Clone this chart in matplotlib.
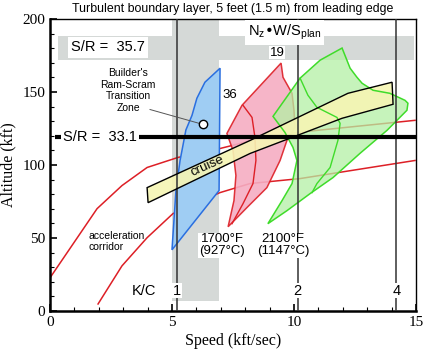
import matplotlib
matplotlib.use("Agg")
import matplotlib.pyplot as plt
from matplotlib.patches import Polygon, Rectangle

# --- data ---
# blue: builder's ram-scram transition zone
blue_x = [6.97, 6.93, 5.0, 5.16, 5.33, 5.57, 5.82, 6.02, 6.35]
blue_y = [166.3, 82.5, 41.9, 82.0, 103.0, 124.0, 134.0, 145.7, 156.7]

# pink: 1700F region (outer and inner contour)
pink_x = [9.47, 9.55, 9.92, 10.0, 10.04, 9.84, 9.71, 9.43, 8.89, 8.07, 7.30,
          7.54, 7.62, 7.50, 7.25, 7.87]
pink_y = [169.8, 160.1, 149.1, 137.5, 125.8, 120.3, 116.8, 103.1, 84.5, 70.8, 57.7,
          75.6, 92.8, 110.0, 121.6, 140.9]
pink_in_x = [7.91, 8.28, 8.40, 8.44, 8.32, 7.91, 7.46]
pink_in_y = [140.9, 132.6, 118.9, 103.1, 87.3, 73.5, 59.8]

# green: 2100F region (outer and inner contour)
green_x = [11.97, 12.30, 12.58, 12.79, 13.24, 13.93, 14.55, 14.67, 14.63, 13.81,
           12.70, 11.60, 10.66, 9.71, 8.93, 9.51, 9.92, 10.12, 9.96, 9.63, 9.14,
           10.25, 11.07]
green_y = [180.1, 166.3, 160.1, 156.0, 151.2, 149.1, 144.3, 142.3, 137.5, 123.7,
           107.9, 91.4, 80.4, 68.7, 59.8, 75.6, 87.3, 103.1, 112.0, 122.3, 133.3,
           159.5, 171.8]
green_in_x = [10.25, 10.57, 10.94, 11.76, 11.89, 11.80, 11.48, 10.94, 10.74]
green_in_y = [159.5, 147.8, 139.5, 132.6, 128.5, 116.8, 98.3, 87.3, 81.1]

# cruise band edges
cruise_top_x = [3.98, 8.20, 12.21, 14.02]
cruise_top_y = [84.5, 116.8, 149.1, 156.7]
cruise_bot_x = [4.02, 8.20, 11.97, 14.06]
cruise_bot_y = [74.2, 107.9, 132.0, 141.6]

# acceleration corridor
acc_hi_x = [0.0, 1.93, 2.95, 3.98, 5.25, 6.97, 8.61, 10.12, 14.96]
acc_hi_y = [22.7, 70.1, 85.9, 98.3, 105.2, 111.3, 118.2, 122.3, 130.6]
acc_lo_x = [1.97, 2.95, 3.98, 5.04, 6.97, 8.20, 10.25, 14.96]
acc_lo_y = [4.8, 30.9, 50.2, 66.7, 81.1, 87.3, 90.7, 103.1]

kc_x = [5.2, 10.15, 14.2]
kc_labels = ["1", "2", "4"]
sr_low = 119
circle_pt = (6.27, 127.8)

sans = "Liberation Sans"
serif = "Liberation Serif"

fig = plt.figure(figsize=(4.25, 3.52), dpi=100)
ax = fig.add_axes([0.1176, 0.1165, 0.8612, 0.8295])
ax.set_xlim(0, 15)
ax.set_ylim(0, 200)

gray = "#d5d9d7"
# gray bands
ax.add_patch(Rectangle((0.33, 172), 14.6, 16.5, color=gray, lw=0, zorder=0))
ax.add_patch(Rectangle((5.0, 6.8), 1.93, 193.2, color=gray, lw=0, zorder=0))

# acceleration corridor
ax.plot(acc_hi_x, acc_hi_y, color="#dd1f26", lw=1.1, zorder=2)
ax.plot(acc_lo_x, acc_lo_y, color="#dd1f26", lw=1.1, zorder=2)

# regions
ax.add_patch(Polygon(list(zip(pink_x, pink_y)), closed=True, fc="#f5adc2",
                     ec="#dd1f26", lw=1.1, alpha=0.9, zorder=3))
ax.plot(pink_in_x, pink_in_y, color="#dd1f26", lw=1.0, zorder=3)
ax.add_patch(Polygon(list(zip(green_x, green_y)), closed=True, fc="#b4f0a4",
                     ec="none", alpha=0.75, zorder=3))
ax.add_patch(Polygon(list(zip(green_x, green_y)), closed=True, fill=False,
                     ec="#3fdc2a", lw=1.1, zorder=5))
ax.plot(green_in_x, green_in_y, color="#3fdc2a", lw=1.0, zorder=5)
ax.add_patch(Polygon(list(zip(blue_x, blue_y)), closed=True, fc="#9fcdf3",
                     ec="#2a6fe0", lw=1.1, zorder=3))

# cruise band
band = list(zip(cruise_top_x, cruise_top_y)) + list(zip(cruise_bot_x, cruise_bot_y))[::-1]
ax.add_patch(Polygon(band, closed=True, fc="#f6f5b4", ec="none", alpha=0.9, zorder=4))
ax.add_patch(Polygon(band, closed=True, fill=False, ec="black", lw=1.0, zorder=6))
ax.text(6.45, 99, "cruise", rotation=24, ha="center", va="center",
        fontsize=9.5, family=sans, zorder=7)

# K/C vertical lines
for xv in kc_x:
    ax.plot([xv, xv], [0, 200], color="#333333", lw=1.1, zorder=5)
for xv, lab in zip(kc_x, kc_labels):
    ax.text(xv, 14, lab, ha="center", va="center", fontsize=10.5, family=sans,
            zorder=8, bbox=dict(fc="white", ec="none", pad=0.5))
ax.text(3.85, 14, "K/C", ha="center", va="center", fontsize=10.5, family=sans, zorder=8)

# S/R lines
ax.plot([0.2, 15], [sr_low, sr_low], color="black", lw=3, zorder=7,
        solid_capstyle="butt")
ax.text(2.05, sr_low, "S/R =  33.1", ha="center", va="center", fontsize=10.5,
        family=sans, zorder=8, bbox=dict(fc="white", ec="none", pad=1.5))
ax.text(2.38, 180.5, "S/R =  35.7", ha="center", va="center", fontsize=10.5,
        family=sans, zorder=8, bbox=dict(fc="white", ec="none", pad=2.5))

# labels
ax.text(9.6, 191, r"N$_\mathregular{z}$•W/S$_\mathregular{plan}$", ha="center",
        va="center", fontsize=10.5, family=sans, zorder=8,
        bbox=dict(fc="white", ec="none", pad=2))
ax.text(9.3, 177, "19", ha="center", va="center", fontsize=9.5, family=sans,
        zorder=8, bbox=dict(fc="white", ec="none", pad=0.5))
ax.text(7.38, 148, "36", ha="center", va="center", fontsize=9.5, family=sans, zorder=8)
ax.text(3.2, 151, "Builder's\nRam-Scram\nTransition\nZone", ha="center",
        va="center", fontsize=7.5, family=sans, linespacing=1.2, zorder=8)
ax.plot([4.1, circle_pt[0]], [138, circle_pt[1]], color="#555555", lw=0.7, zorder=8)
ax.plot(*circle_pt, "o", ms=6, mfc="white", mec="black", mew=1, zorder=9)
ax.text(1.56, 47.5, "acceleration\ncorridor", ha="left", va="center", fontsize=7.5,
        family=sans, linespacing=1.2, zorder=8)
ax.text(7.05, 45, "1700°F\n(927°C)", ha="center", va="center", fontsize=9.5,
        family=sans, linespacing=1.0, zorder=8, bbox=dict(fc="white", ec="none", pad=0.5))
ax.text(9.55, 45, "2100°F\n(1147°C)", ha="center", va="center", fontsize=9.5,
        family=sans, linespacing=1.0, zorder=8, bbox=dict(fc="white", ec="none", pad=0.5))

# axes styling
ax.set_xticks([0, 5, 10, 15])
ax.set_xticks(range(0, 16), minor=True)
ax.set_yticks([0, 50, 100, 150, 200])
ax.set_yticks(range(0, 201, 10), minor=True)
ax.tick_params(direction="in", labelsize=11, length=5, width=1.2)
ax.tick_params(which="minor", direction="in", length=3, width=0.8)
for lab in ax.get_xticklabels() + ax.get_yticklabels():
    lab.set_family(serif)
for s in ["left", "bottom"]:
    ax.spines[s].set_linewidth(1.8)
for s in ["top", "right"]:
    ax.spines[s].set_linewidth(1.0)
ax.set_xlabel("Speed (kft/sec)", fontsize=11.5, family=serif, labelpad=3)
ax.set_ylabel("Altitude (kft)", fontsize=11.5, family=serif, labelpad=4)
ax.set_title("Turbulent boundary layer, 5 feet (1.5 m) from leading edge",
             fontsize=8.9, family=sans, pad=5)

fig.savefig("out.png", dpi=100)
